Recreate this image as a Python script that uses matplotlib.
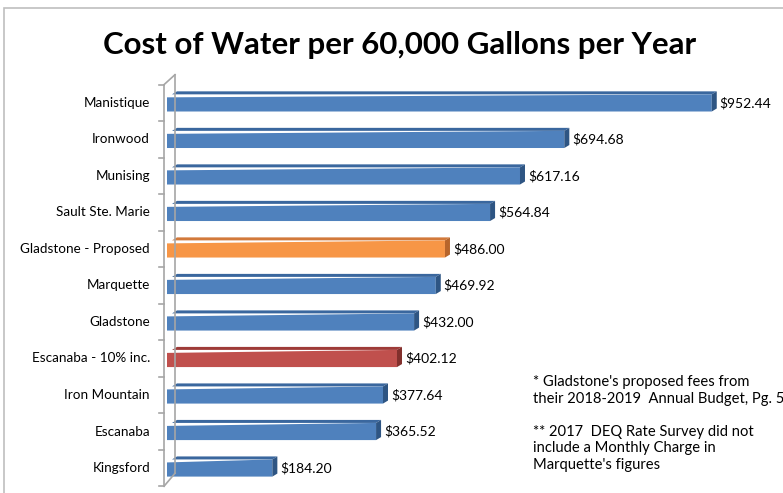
import matplotlib
matplotlib.use('Agg')
from matplotlib import pyplot as plt
from matplotlib.patches import Polygon, Rectangle

cities = ['Kingsford', 'Escanaba', 'Iron Mountain', 'Escanaba - 10% inc.', 'Gladstone',
          'Marquette', 'Gladstone - Proposed', 'Sault Ste. Marie', 'Munising',
          'Ironwood', 'Manistique']
costs = [184.20, 365.52, 377.64, 402.12, 432.00, 469.92, 486.00, 564.84, 617.16,
         694.68, 952.44]
labels = ['$184.20', '$365.52', '$377.64', '$402.12', '$432.00', '$469.92', '$486.00',
          '$564.84', '$617.16', '$694.68', '$952.44']
kinds = ['base', 'base', 'base', 'inc', 'base', 'base', 'prop', 'base', 'base', 'base', 'base']

front = {'base': '#4F81BD', 'inc': '#C0504D', 'prop': '#F79646'}
top = {'base': '#3A679E', 'inc': '#9E3B38', 'prop': '#D2793A'}
side = {'base': '#2E5583', 'inc': '#82302D', 'prop': '#B7652B'}

plt.rcParams['font.family'] = ['Lato', 'DejaVu Sans']

fig = plt.figure(figsize=(7.83, 4.93), dpi=100)
fig.patches.append(Rectangle((4 / 783, -0.1), 1.2, (493 - 8) / 493 + 0.1,
                             transform=fig.transFigure, fill=False,
                             edgecolor='#BFBFBF', linewidth=1.2))

ax = fig.add_axes([167 / 783, 6 / 493, 616 / 783, 410 / 493])
ax.set_xlim(0, 1077)
ax.set_ylim(-0.52, 10.71)
ax.axis('off')

pxx = 1077 / 616.0
pxy = 11.23 / 410.0
h = 0.47
ddx, ddy = 5 * pxx, 3 * pxy

for i, (v, k) in enumerate(zip(costs, kinds)):
    y0, y1 = i - h / 2, i + h / 2
    ax.add_patch(Polygon([(ddx, y1), (v, y1), (v + ddx, y1 + ddy), (2 * ddx, y1 + ddy)],
                         closed=True, facecolor=top[k], edgecolor='none'))
    ax.add_patch(Polygon([(0, y0), (v, y0), (v, y1), (0, y1 - ddy)], closed=True,
                         facecolor=front[k], edgecolor='none'))
    ax.add_patch(Polygon([(v, y0), (v + ddx, y0 + ddy), (v + ddx, y1 + ddy), (v, y1)],
                         closed=True, facecolor=side[k], edgecolor='none'))
    ax.text(v + ddx + 3 * pxx, i, labels[i], va='center', ha='left', fontsize=10)
    ax.text(-17 * pxx, i, cities[i], va='center', ha='right', fontsize=9.7)

# axis wall
wx0, wx1 = -3 * pxx, 8 * pxx
ytop, ybot = 10.5, -0.5
ax.plot([wx1, wx1], [ytop + 10 * pxy, ybot + 13 * pxy], color='#A6A6A6', lw=1.2, clip_on=False)
ax.plot([wx0, wx0], [ytop, ybot], color='#A6A6A6', lw=1.2, clip_on=False)
ax.plot([wx0, wx1], [ytop, ytop + 10 * pxy], color='#A6A6A6', lw=1.2, clip_on=False)
ax.plot([wx0, wx1], [ybot, ybot + 13 * pxy], color='#A6A6A6', lw=1.2, clip_on=False)
for t in range(12):
    ax.plot([wx0 - 5 * pxx, wx0], [t - 0.5, t - 0.5], color='#A6A6A6', lw=1.2, clip_on=False)

fig.text(400 / 783, 1 - 45 / 493, 'Cost of Water per 60,000 Gallons per Year',
         ha='center', va='center', fontsize=22.5, fontweight='bold')

fig.text(533 / 783, 1 - 375 / 493,
         "* Gladstone's proposed fees from\ntheir 2018-2019  Annual Budget, Pg. 5\n\n"
         "** 2017  DEQ Rate Survey did not\ninclude a Monthly Charge in\nMarquette's figures",
         ha='left', va='top', fontsize=10.6, linespacing=1.23)

fig.savefig('out.png', dpi=100)
